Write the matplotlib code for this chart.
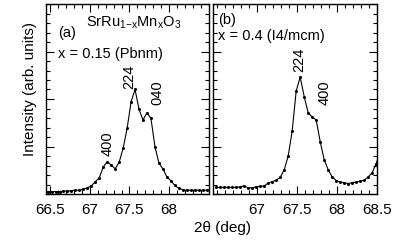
import numpy as np
import matplotlib
import matplotlib.pyplot as plt
import matplotlib.ticker as ticker

matplotlib.rcParams['font.family'] = ['Liberation Sans', 'DejaVu Sans']
matplotlib.rcParams['mathtext.fontset'] = 'custom'
matplotlib.rcParams['mathtext.rm'] = 'Liberation Sans'
matplotlib.rcParams['mathtext.it'] = 'Liberation Sans'

# 2theta (deg) and intensity (arb. units), panel (a) x = 0.15
theta_a = [66.47, 66.52, 66.57, 66.62, 66.67, 66.72, 66.77, 66.82, 66.87, 66.92,
           66.97, 67.02, 67.07, 67.12, 67.17, 67.22, 67.27, 67.32, 67.37, 67.42,
           67.47, 67.52, 67.57, 67.62, 67.67, 67.72, 67.77, 67.82, 67.87, 67.92,
           67.97, 68.02, 68.07, 68.12, 68.17, 68.22, 68.27, 68.32, 68.37, 68.42,
           68.47, 68.52]
int_a = [0.05, 0.05, 0.05, 0.05, 0.06, 0.06, 0.07, 0.08, 0.08, 0.10,
         0.13, 0.17, 0.26, 0.34, 0.57, 0.68, 0.61, 0.53, 0.67, 0.96,
         1.38, 1.94, 2.20, 1.78, 1.56, 1.71, 1.59, 1.00, 0.65, 0.53,
         0.36, 0.28, 0.18, 0.12, 0.09, 0.08, 0.08, 0.08, 0.08, 0.08,
         0.08, 0.08]

# panel (b) x = 0.4
theta_b = [66.49, 66.54, 66.59, 66.64, 66.69, 66.74, 66.79, 66.84, 66.89, 66.94,
           66.99, 67.04, 67.09, 67.14, 67.19, 67.24, 67.29, 67.34, 67.39, 67.44,
           67.49, 67.54, 67.59, 67.64, 67.69, 67.74, 67.79, 67.84, 67.89, 67.94,
           67.99, 68.04, 68.09, 68.14, 68.19, 68.24, 68.29, 68.34, 68.39, 68.44,
           68.49, 68.54]
int_b = [0.14, 0.14, 0.14, 0.14, 0.14, 0.14, 0.15, 0.17, 0.13, 0.13,
         0.15, 0.16, 0.17, 0.23, 0.26, 0.29, 0.35, 0.51, 0.80, 1.33,
         2.17, 2.46, 2.05, 1.71, 1.62, 1.56, 1.10, 0.72, 0.51, 0.36,
         0.28, 0.25, 0.24, 0.22, 0.24, 0.25, 0.27, 0.29, 0.36, 0.45,
         0.64, 0.90]

fig = plt.figure(figsize=(4.05, 2.4), dpi=100)
ax1 = fig.add_axes([46/405, 46/240, 163/405, 190/240])
ax2 = fig.add_axes([213/405, 46/240, 164/405, 190/240])

for ax, th, it in [(ax1, theta_a, int_a), (ax2, theta_b, int_b)]:
    ax.plot(th, it, color='black', lw=0.8, marker='o', ms=1.2)
    ax.set_xlim(66.45, 68.5)
    ax.set_ylim(0, 4)
    ax.xaxis.set_major_locator(ticker.MultipleLocator(0.5))
    ax.xaxis.set_minor_locator(ticker.MultipleLocator(0.1))
    ax.yaxis.set_major_locator(ticker.MultipleLocator(1))
    ax.yaxis.set_minor_locator(ticker.MultipleLocator(0.2))
    ax.tick_params(which='both', direction='in', top=True, right=True,
                   labelleft=False, labelsize=11, width=0.8)
    ax.tick_params(axis='x', which='major', pad=6.5)
    ax.tick_params(which='major', length=6)
    ax.tick_params(which='minor', length=3)
    for s in ax.spines.values():
        s.set_linewidth(1)

ax1.set_xticks([66.5, 67, 67.5, 68], ['66.5', '67', '67.5', '68'])
ax2.set_xticks([67, 67.5, 68, 68.5], ['67', '67.5', '68', '68.5'])

ax1.set_ylabel('Intensity (arb. units)', fontsize=11)
ax1.yaxis.set_label_coords(-0.055, 0.55)
fig.text(223/405, 1 - 228/240, '2θ (deg)', fontsize=11, ha='center', va='center')

ax1.text(67.55, 3.6, r'SrRu$_{1\mathrm{-}x}$Mn$_x$O$_3$', fontsize=10.5, ha='center', va='center')
ax1.text(66.6, 3.38, '(a)', fontsize=10.5, ha='left', va='center')
ax1.text(66.6, 2.95, 'x = 0.15 (Pbnm)', fontsize=10.5, ha='left', va='center')
ax1.text(67.22, 1.05, '400', fontsize=10.5, rotation=90, ha='center', va='center')
ax1.text(67.5, 2.47, '224', fontsize=10.5, rotation=90, ha='center', va='center')
ax1.text(67.85, 2.14, '040', fontsize=10.5, rotation=90, ha='center', va='center')

ax2.text(66.51, 3.66, '(b)', fontsize=10.5, ha='left', va='center')
ax2.text(66.51, 3.33, 'x = 0.4 (I4/mcm)', fontsize=10.5, ha='left', va='center')
ax2.text(67.53, 2.82, '224', fontsize=10.5, rotation=90, ha='center', va='center')
ax2.text(67.84, 2.14, '400', fontsize=10.5, rotation=90, ha='center', va='center')

plt.savefig('out.png', dpi=100)
